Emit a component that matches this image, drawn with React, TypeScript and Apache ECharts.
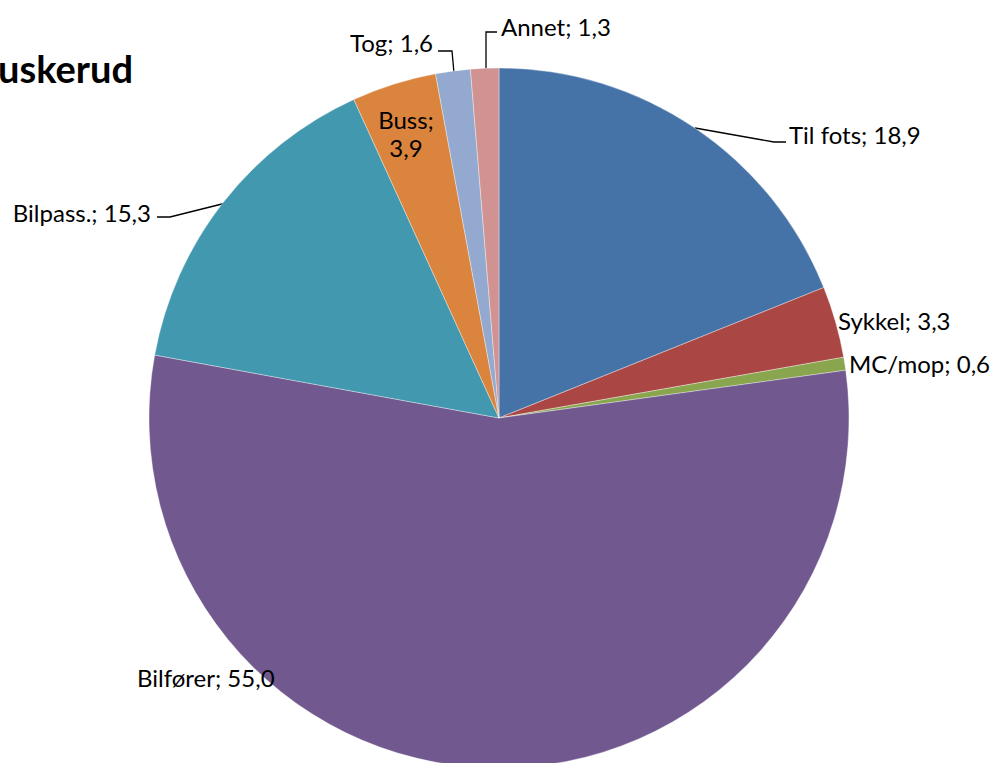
import React, { useEffect, useRef } from "react";
import * as echarts from "echarts";

const titleText = "Buskerud";
const categories = ["Til fots", "Sykkel", "MC/mop", "Bilfører", "Bilpass.", "Buss", "Tog", "Annet"];
const values = [18.9, 3.3, 0.6, 55.0, 15.3, 3.9, 1.6, 1.3];
const colors = ["#4572A7", "#AA4643", "#89A54E", "#71588F", "#4198AF", "#DB843D", "#93A9CF", "#D19392"];

// label placement (layout only)
const labelPos: any[] = [
  { x: 789, y: 134, align: "left", line: [[695, 128], [774, 142], [786, 142]] },
  { x: 838, y: 320, align: "left" },
  { x: 849, y: 363, align: "left" },
  { x: 137, y: 677, align: "left" },
  { x: 151, y: 212, align: "right", line: [[226, 203], [170, 217], [157, 217]] },
  { x: 406, y: 133, align: "center" },
  { x: 433, y: 42, align: "right", line: [[454, 73], [452, 51], [438, 51]] },
  { x: 501, y: 26, align: "left", line: [[486, 70], [486, 32], [497, 32]] },
];

const fmt = (v: number) => v.toFixed(1).replace(".", ",");

export default function App() {
  const ref = useRef<HTMLDivElement>(null);
  useEffect(() => {
    const chart = echarts.init(ref.current!, null, { renderer: "svg" });
    const font = "Lato, 'Open Sans', sans-serif";
    chart.setOption({
      animation: false,
      backgroundColor: "#ffffff",
      graphic: [
        {
          type: "text",
          x: 133,
          y: 68,
          style: {
            text: titleText,
            font: `bold 38px ${font}`,
            fill: "#000",
            align: "right",
            verticalAlign: "middle",
          },
        },
      ],
      series: [
        {
          type: "pie",
          center: [499, 418],
          radius: 350,
          startAngle: 90,
          clockwise: true,
          avoidLabelOverlap: false,
          itemStyle: { borderColor: "rgba(255,255,255,0.6)", borderWidth: 0.6 },
          label: {
            show: true,
            color: "#000",
            fontFamily: font,
            fontSize: 24,
            lineHeight: 28,
            formatter: (p: any) =>
              p.name === "Buss" ? `${p.name};\n${fmt(p.value)}` : `${p.name}; ${fmt(p.value)}`,
          },
          labelLine: { show: true, lineStyle: { color: "#000", width: 1.3 }, smooth: false },
          emphasis: { disabled: true },
          data: categories.map((c, i) => ({
            name: c,
            value: values[i],
            itemStyle: { color: colors[i] },
            label: { align: labelPos[i].align },
            labelLine: { show: !!labelPos[i].line },
          })),
          labelLayout: (params: any) => {
            const p = labelPos[params.dataIndex];
            const r: any = { x: p.x, y: p.y, align: p.align, verticalAlign: "middle", hideOverlap: false };
            if (p.line) r.labelLinePoints = p.line;
            return r;
          },
        },
      ],
    });
    return () => chart.dispose();
  }, []);
  return (
    <div
      ref={ref}
      style={{ position: "fixed", left: 0, top: 0, width: 997, height: 763 }}
    />
  );
}
